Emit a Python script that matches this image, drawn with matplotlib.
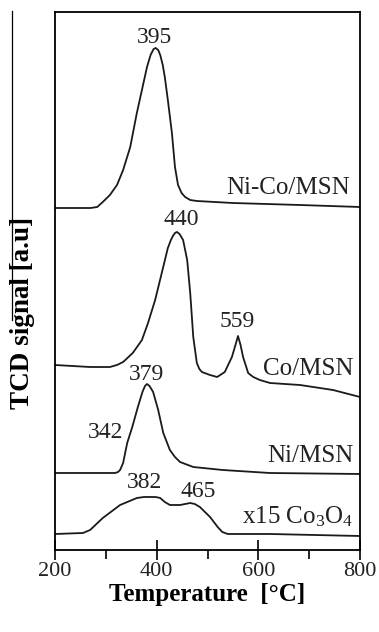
import matplotlib
matplotlib.use("Agg")
import matplotlib.pyplot as plt
from matplotlib.lines import Line2D

plt.rcParams['font.family'] = ['Liberation Serif', 'DejaVu Serif']
plt.rcParams['mathtext.fontset'] = 'custom'
plt.rcParams['mathtext.rm'] = 'Liberation Serif'
plt.rcParams['mathtext.it'] = 'Liberation Serif:italic'

# ---- data (temperature in degC, TCD signal in arbitrary units, offset-stacked) ----
nico_T = [200, 270, 283, 294, 308, 322, 334, 348, 361, 371, 381, 388, 394, 398, 403,
          407, 412, 416, 422, 430, 436, 442, 449, 456, 466, 479, 550, 682, 800]
nico_y = [342, 342, 343, 348, 355, 365, 380, 403, 437, 460, 483, 495, 501, 502, 500,
          495, 485, 473, 450, 417, 383, 365, 357, 353, 350, 349, 347, 345, 343]

co_T = [200, 269, 308, 322, 334, 353, 371, 383, 397, 410, 422, 428, 432, 436, 440,
        445, 452, 460, 466, 472, 479, 484, 489, 505, 519, 534, 548, 555, 560, 565,
        570, 580, 590, 603, 623, 682, 747, 800]
co_y = [185, 183, 183, 185, 188, 197, 210, 227, 250, 277, 302, 310, 314, 317, 318,
        316, 310, 290, 257, 213, 187, 181, 178, 175, 173, 178, 193, 205, 214, 205,
        193, 177, 173, 170, 167, 165, 160, 153]

ni_T = [200, 269, 318, 324, 328, 334, 342, 352, 363, 372, 377, 381, 386, 393, 403,
        413, 426, 436, 446, 472, 530, 623, 800]
ni_y = [77, 77, 77, 78, 80, 87, 107, 123, 143, 158, 164, 166, 164, 158, 140,
        117, 100, 93, 88, 83, 80, 77, 76]

co3o4_T = [200, 255, 269, 294, 328, 361, 375, 387, 398, 407, 416, 426, 446, 456,
           466, 475, 485, 505, 520, 529, 540, 623, 800]
co3o4_y = [16, 17, 20, 32, 45, 52, 53, 53, 53, 52, 48, 45, 45, 46, 47, 46,
           43, 33, 23, 18, 16, 16, 14]

series_labels = ["Ni-Co/MSN", "Co/MSN", "Ni/MSN", r"x15 Co$_\mathrm{3}$O$_\mathrm{4}$"]
peak_labels = ["395", "440", "559", "379", "342", "382", "465"]
xticks = [200, 400, 600, 800]

W, H = 379, 632
fig = plt.figure(figsize=(W / 100, H / 100), dpi=100)
ax = fig.add_axes([55 / W, 1 - 550 / H, 305 / W, 538 / H])

lc = '#1a1a1a'
for T, y in [(nico_T, nico_y), (co_T, co_y), (ni_T, ni_y), (co3o4_T, co3o4_y)]:
    ax.plot(T, y, color=lc, lw=1.3, solid_joinstyle='round')

ax.set_xlim(200, 800)
ax.set_ylim(0, 538)
ax.set_yticks([])
ax.set_xticks(xticks)
ax.set_xticks([300, 500, 700], minor=True)
ax.tick_params(axis='x', which='major', direction='inout', length=14, width=1.2,
               labelsize=16, pad=2, colors='black')
ax.tick_params(axis='x', which='minor', direction='out', length=6.5, width=1.2)
ax.tick_params(axis='x', labelcolor='#222222')
for s in ax.spines.values():
    s.set_linewidth(1.3)
    s.set_color('black')

ax.set_xlabel("Temperature  [°C]", fontsize=18, fontweight='bold', labelpad=1)


def tpos(px):
    return 200 + (px - 55) * 600 / 305


txt_kw = dict(fontsize=17, color='#222222', va='baseline')
ax.text(tpos(155), 550 - 43, peak_labels[0], ha='center', **txt_kw)
ax.text(tpos(181), 550 - 225, peak_labels[1], ha='center', **txt_kw)
ax.text(tpos(237), 550 - 327, peak_labels[2], ha='center', **txt_kw)
ax.text(tpos(146), 550 - 380, peak_labels[3], ha='center', **txt_kw)
ax.text(tpos(123), 550 - 438, peak_labels[4], ha='right', **txt_kw)
ax.text(tpos(145), 550 - 488, peak_labels[5], ha='center', **txt_kw)
ax.text(tpos(198), 550 - 497, peak_labels[6], ha='center', **txt_kw)

lab_kw = dict(fontsize=18, color='#222222', va='baseline', ha='right')
ax.text(tpos(350), 550 - 194, series_labels[0], **lab_kw)
ax.text(tpos(353), 550 - 375, series_labels[1], **lab_kw)
ax.text(tpos(353), 550 - 462, series_labels[2], **lab_kw)
ax.text(tpos(353), 550 - 523, series_labels[3], **lab_kw)

fig.text(23 / W, 1 - 313 / H, "TCD signal [a.u]", rotation=90, fontsize=19.5,
         fontweight='bold', ha='center', va='center')

fig.add_artist(Line2D([12 / W, 12 / W], [1 - 11 / H, 1 - 320 / H],
                      color='black', lw=0.9))

fig.savefig("out.png", dpi=100)
